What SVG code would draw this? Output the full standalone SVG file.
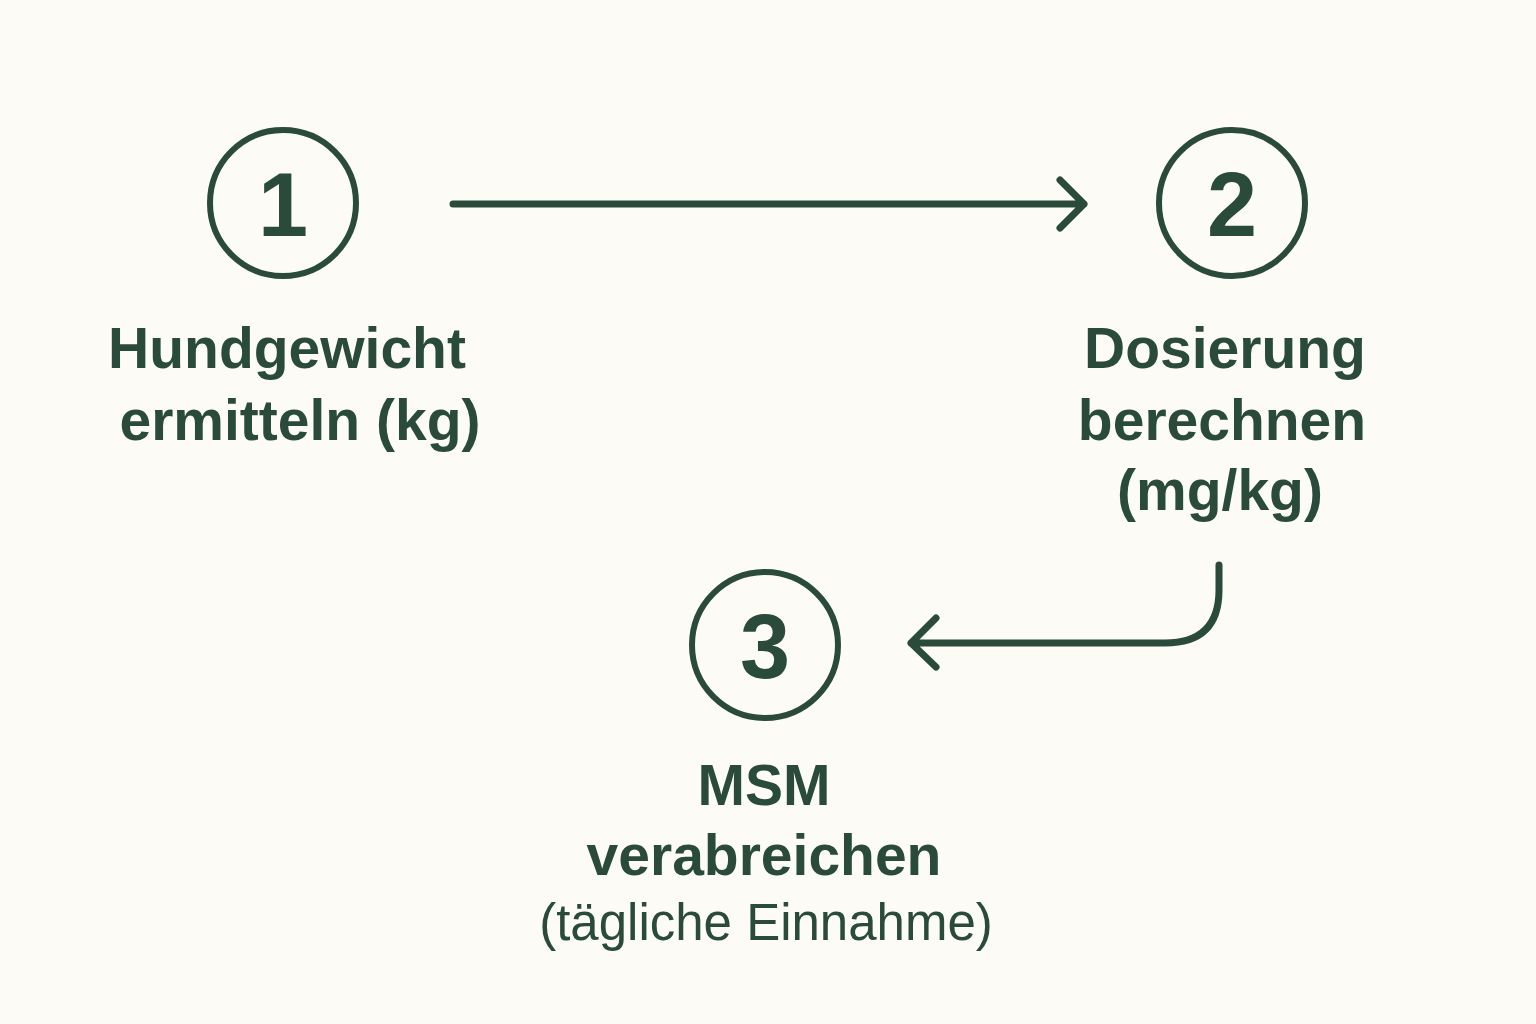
<svg xmlns="http://www.w3.org/2000/svg" width="1536" height="1024" viewBox="0 0 1536 1024">
<style>
.ring{fill:none;stroke:#2a4a3c;stroke-width:6}
.num{font-family:"Liberation Sans",Arial,sans-serif;font-weight:bold;font-size:90px;fill:#2a4a3c;text-anchor:middle}
.lbl{font-family:"Liberation Sans",Arial,sans-serif;font-weight:bold;font-size:57px;fill:#2a4a3c;text-anchor:middle}
.sub{font-family:"Liberation Sans",Arial,sans-serif;font-size:51px;fill:#2a4a3c;text-anchor:middle}
.con{fill:none;stroke:#2a4a3c;stroke-width:7;stroke-linecap:round;stroke-linejoin:round}
</style>
<rect width="1536" height="1024" fill="#fcfbf6"/>
<g id="node1">
<circle class="ring" cx="283" cy="203" r="73"/>
<text class="num" x="283" y="236">1</text>
<text class="lbl" x="287" y="368">Hundgewicht</text>
<text class="lbl" x="300" y="440">ermitteln (kg)</text>
</g>
<g id="node2">
<circle class="ring" cx="1232" cy="203" r="73"/>
<text class="num" x="1232" y="236">2</text>
<text class="lbl" x="1225" y="368">Dosierung</text>
<text class="lbl" x="1222" y="440">berechnen</text>
<text class="lbl" x="1220" y="510">(mg/kg)</text>
</g>
<g id="node3">
<circle class="ring" cx="765" cy="645" r="73"/>
<text class="num" x="765" y="678">3</text>
<text class="lbl" x="764" y="805">MSM</text>
<text class="lbl" x="764" y="875">verabreichen</text>
<text class="sub" x="766" y="940">(tägliche Einnahme)</text>
</g>
<g id="connectors">
<path class="con" d="M453 204 H1084 M1060 180 L1084 204 L1060 228"/>
<path class="con" d="M1219 565 V590 Q1219 643 1165 643 H911 M936 618 L911 643 L936 667"/>
</g>
</svg>
